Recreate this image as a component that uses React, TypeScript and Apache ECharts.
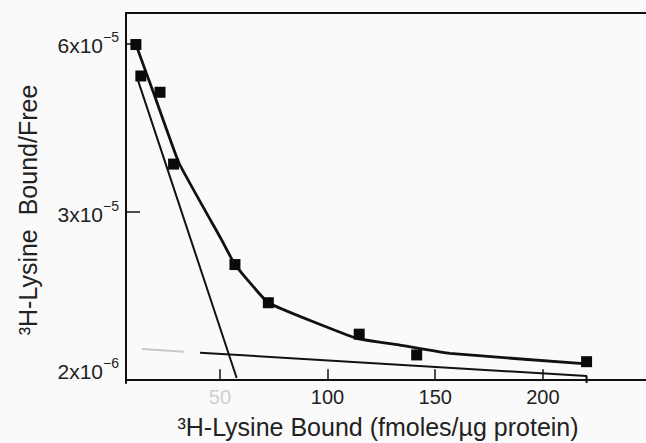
import React, { useEffect, useRef } from "react";
import * as echarts from "echarts";

// Measured points (x: fmoles/µg protein, y: bound/free)
const boundX = [11.0, 13.3, 22.2, 28.5, 57.0, 72.5, 114.7, 141.4, 220.3];
const ratioY = [5.98e-5, 5.42e-5, 5.13e-5, 3.85e-5, 2.06e-5, 1.38e-5, 8.2e-6, 4.5e-6, 3.3e-6];

// Hand-drawn fitted curve through the data
const curveX = [11.0, 19.1, 31.0, 50.8, 57.0, 72.5, 113.5, 133.6, 156.8, 220.3];
const curveY = [5.98e-5, 5.13e-5, 3.87e-5, 2.5e-5, 2.06e-5, 1.38e-5, 7.45e-6, 6.25e-6, 4.77e-6, 2.9e-6];

// High-affinity component (steep straight line)
const highX = [11.9, 57.8];
const highY = [5.35e-5, 0.4e-6];

// Low-affinity component (shallow straight line), faded start in the scan
const lowFadedX = [13.8, 33.5];
const lowFadedY = [5.54e-6, 5.08e-6];
const lowX = [40.8, 220.3, 220.3];
const lowY = [4.91e-6, 0.73e-6, -0.5e-6];

// Axis ticks / labels
const xTickValues = [50, 100, 150, 200];
const yTickValues = [2e-6, 3e-5, 6e-5];
const yTickMantissa = ["2", "3", "6"];
const yTickExponent = ["\u22126", "\u22125", "\u22125"];
const yTickMarks = [3e-5, 6e-5];

const X_MIN = 6.4;
const X_MAX = 247.9;
const Y_MIN = -0.5e-6;
const Y_MAX = 65.42e-6;

const FONT = "'Liberation Sans', Arial, Helvetica, sans-serif";
const INK = "#111111";

const zip = (xs: number[], ys: number[]) => xs.map((x, i) => [x, ys[i]]);

export default function App() {
  const ref = useRef<HTMLDivElement>(null);

  useEffect(() => {
    if (!ref.current) return;
    const chart = echarts.init(ref.current, null, { renderer: "svg" });
    chart.setOption({
      animation: false,
      backgroundColor: "#fafafa",
      grid: { left: 126, right: 0, top: 13, bottom: 60, containLabel: false },
      xAxis: [
        {
          type: "value",
          min: X_MIN,
          max: X_MAX,
          splitLine: { show: false },
          axisLine: { show: true, lineStyle: { color: INK, width: 2 } },
          axisTick: {
            show: true,
            inside: true,
            length: 11,
            customValues: xTickValues,
            lineStyle: { color: INK, width: 1.5 },
          },
          axisLabel: {
            customValues: xTickValues,
            fontSize: 20,
            fontFamily: FONT,
            color: "#222",
            margin: 4,
            formatter: (v: number) => (v === 50 ? "{f|50}" : String(v)),
            rich: { f: { color: "#d0d0d0", fontSize: 20, fontFamily: FONT } },
          },
        },
        {
          type: "value",
          position: "top",
          min: X_MIN,
          max: X_MAX,
          splitLine: { show: false },
          axisLine: { show: true, lineStyle: { color: INK, width: 2 } },
          axisTick: { show: false },
          axisLabel: { show: false },
        },
      ],
      yAxis: {
        type: "value",
        min: Y_MIN,
        max: Y_MAX,
        splitLine: { show: false },
        axisLine: { show: true, lineStyle: { color: INK, width: 2 } },
        axisTick: {
          show: true,
          inside: true,
          length: 14,
          customValues: yTickMarks,
          lineStyle: { color: INK, width: 1.5 },
        },
        axisLabel: {
          customValues: yTickValues,
          margin: 7,
          formatter: (v: number) => {
            const i = yTickValues.findIndex((t) => Math.abs(t - v) < 1e-9);
            if (i < 0) return "";
            return `{m|${yTickMantissa[i]}x10}{s|${yTickExponent[i]}}`;
          },
          rich: {
            m: { fontSize: 21, fontFamily: FONT, color: "#222", lineHeight: 26, verticalAlign: "bottom" },
            s: { fontSize: 14, fontFamily: FONT, color: "#222", lineHeight: 26, verticalAlign: "top" },
          },
        },
      },
      series: [
        {
          type: "line",
          data: zip(curveX, curveY),
          smooth: 0.1,
          symbol: "none",
          lineStyle: { color: INK, width: 2.8 },
          z: 3,
        },
        {
          type: "line",
          data: zip(highX, highY),
          symbol: "none",
          lineStyle: { color: INK, width: 2 },
          z: 2,
        },
        {
          type: "line",
          data: zip(lowFadedX, lowFadedY),
          symbol: "none",
          lineStyle: { color: "#c8c8c8", width: 2 },
          z: 2,
        },
        {
          type: "line",
          data: zip(lowX, lowY),
          symbol: "none",
          lineStyle: { color: INK, width: 2 },
          z: 2,
        },
        {
          type: "scatter",
          data: zip(boundX, ratioY),
          symbol: "rect",
          symbolSize: 11,
          itemStyle: { color: "#0a0a0a", opacity: 1 },
          z: 5,
        },
      ],
      graphic: [
        {
          type: "text",
          x: 28,
          y: 210,
          rotation: Math.PI / 2,
          style: {
            text: "\u00b3H-Lysine  Bound/Free",
            fontSize: 25,
            fontFamily: FONT,
            fill: "#222",
            align: "center",
            verticalAlign: "middle",
          },
        },
        {
          type: "text",
          x: 378,
          y: 427,
          style: {
            text: "\u00b3H-Lysine Bound (fmoles/\u00b5g protein)",
            fontSize: 25,
            fontFamily: FONT,
            fill: "#222",
            align: "center",
            verticalAlign: "middle",
          },
        },
      ],
    });
    return () => chart.dispose();
  }, []);

  return (
    <div
      ref={ref}
      style={{ position: "fixed", left: 0, top: 0, width: 646, height: 443 }}
    />
  );
}
